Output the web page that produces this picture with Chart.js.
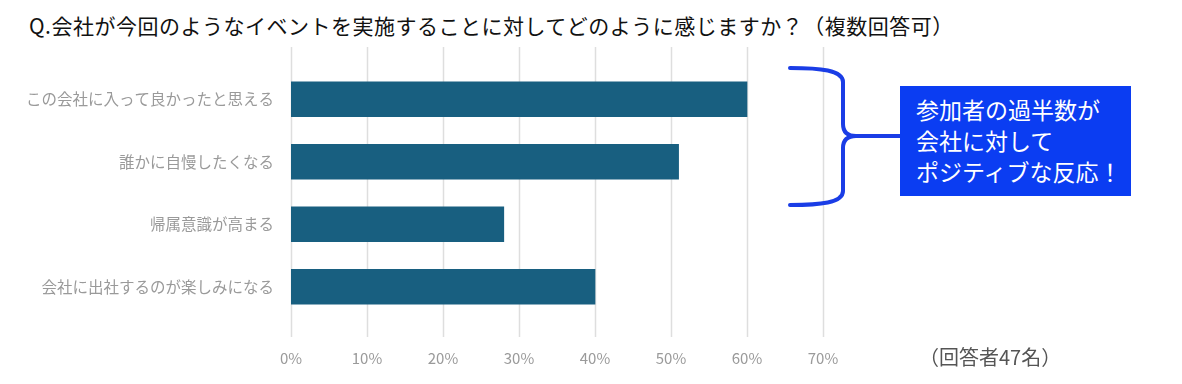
<!DOCTYPE html>
<html lang="ja">
<head>
<meta charset="utf-8">
<script src="https://cdn.jsdelivr.net/npm/chart.js@4"></script>
<style>
    html, body { margin: 0; padding: 0; background: #fff; }
    body { width: 1182px; height: 384px; position: relative; overflow: hidden; font-family: "Noto Sans CJK JP", sans-serif; }
    #wrap { position: absolute; left: 0; top: 0; width: 1182px; height: 384px; }
    .title { position: absolute; left: 29px; top: 10px; font-size: 21px; letter-spacing: 0.5px; color: #111; white-space: nowrap; line-height: 30px; }
    .note { position: absolute; left: 919px; top: 343px; font-size: 20px; color: #555; white-space: nowrap; line-height: 28px; }
    .callout { position: absolute; left: 900px; top: 86px; width: 231px; height: 110px; background: #0b3df2; color: #fff;
               font-size: 23px; line-height: 31px; box-sizing: border-box; padding: 8px 0 0 16px; white-space: nowrap; }
</style>
</head>
<body>
<div class="title">Q.会社が今回のようなイベントを実施することに対してどのように感じますか？（複数回答可）</div>
<div id="wrap"><canvas id="chart" width="1182" height="384"></canvas></div>
<div class="callout">参加者の過半数が<br>会社に対して<br>ポジティブな反応！</div>
<div class="note">（回答者47名）</div>
<script>
// データ
const categories = ['この会社に入って良かったと思える', '誰かに自慢したくなる', '帰属意識が高まる', '会社に出社するのが楽しみになる'];
const percentValues = [60, 51, 28, 40];
const tickValues = [0, 10, 20, 30, 40, 50, 60, 70];

const BAR_COLOR = '#185f80';
const GRID_COLOR = '#dedede';
const LABEL_COLOR = '#9a9a9a';
const BRACE_COLOR = '#1a3de6';

// 縦グリッド線（プロット領域より上下に少しはみ出す）
const gridPlugin = {
    id: 'longGrid',
    beforeDatasetsDraw(chart) {
        const { ctx, chartArea, scales } = chart;
        ctx.save();
        ctx.strokeStyle = GRID_COLOR;
        ctx.lineWidth = 1.5;
        scales.x.ticks.forEach(t => {
            const x = Math.round(scales.x.getPixelForValue(t.value)) + 0.5;
            ctx.beginPath();
            ctx.moveTo(x, chartArea.top - 21);
            ctx.lineTo(x, chartArea.bottom + 19);
            ctx.stroke();
        });
        ctx.restore();
    }
};

// 波かっこ
const bracePlugin = {
    id: 'brace',
    afterDraw(chart) {
        const { ctx } = chart;
        const x0 = 790, x1 = 843, tip = 856, top = 68, mid = 136, bottom = 205;
        ctx.save();
        ctx.strokeStyle = BRACE_COLOR;
        ctx.lineWidth = 4;
        ctx.lineCap = 'round';
        ctx.beginPath();
        ctx.moveTo(x0, top);
        ctx.bezierCurveTo(x0 + 30, top, x1, top + 2, x1, top + 14);
        ctx.lineTo(x1, mid - 12);
        ctx.quadraticCurveTo(x1, mid, tip, mid);
        ctx.quadraticCurveTo(x1, mid, x1, mid + 12);
        ctx.lineTo(x1, bottom - 14);
        ctx.bezierCurveTo(x1, bottom - 2, x0 + 30, bottom, x0, bottom);
        ctx.moveTo(tip, mid);
        ctx.lineTo(900, mid);
        ctx.stroke();
        ctx.restore();
    }
};

const chart = new Chart(document.getElementById('chart').getContext('2d'), {
    type: 'bar',
    data: {
        labels: categories,
        datasets: [{
            data: percentValues,
            backgroundColor: BAR_COLOR,
            borderWidth: 0,
            barThickness: 35
        }]
    },
    options: {
        indexAxis: 'y',
        responsive: false,
        animation: false,
        layout: { padding: { top: 68, right: 359, left: 0, bottom: 0 } },
        plugins: {
            legend: { display: false },
            tooltip: { enabled: false }
        },
        scales: {
            x: {
                min: 0,
                max: 70,
                afterBuildTicks: (scale) => { scale.ticks = tickValues.map(v => ({ value: v })); },
                afterFit: (scale) => { scale.height = 66; },
                grid: { display: false },
                border: { display: false },
                ticks: {
                    padding: 23,
                    color: LABEL_COLOR,
                    font: { family: '"Noto Sans CJK JP", sans-serif', size: 15 },
                    callback: (v) => `${v}%`
                }
            },
            y: {
                afterFit: (scale) => { scale.width = 291; },
                grid: { display: false, drawTicks: false },
                border: { display: false },
                ticks: {
                    padding: 17,
                    color: LABEL_COLOR,
                    font: { family: '"Noto Sans CJK JP", sans-serif', size: 15.5 }
                }
            }
        }
    },
    plugins: [gridPlugin, bracePlugin]
});
</script>
</body>
</html>
